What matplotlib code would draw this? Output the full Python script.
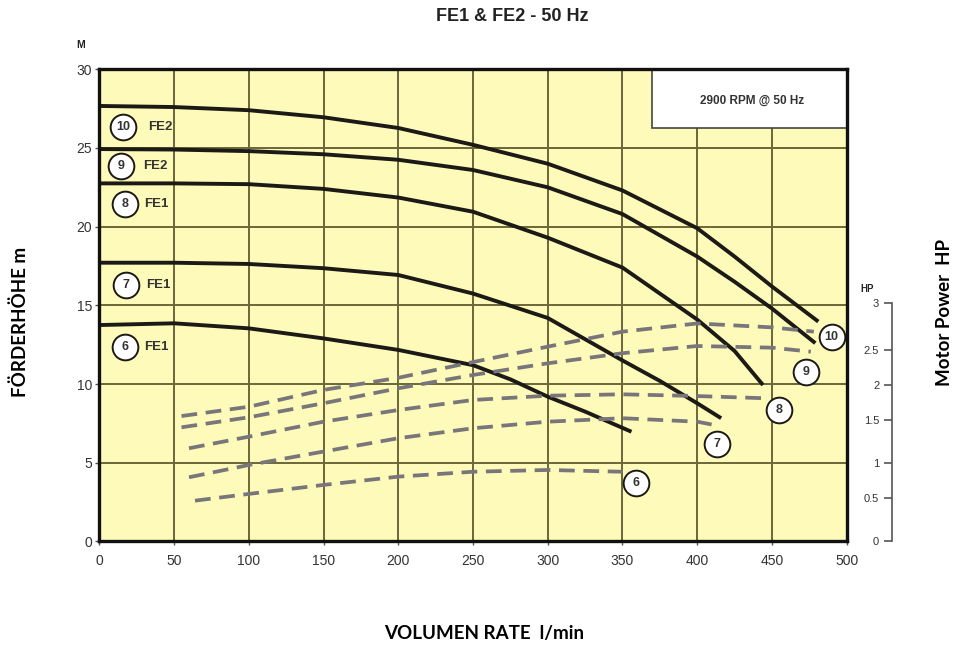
import numpy as np
import matplotlib
matplotlib.use("Agg")
import matplotlib.pyplot as plt

# head curves (l/min, m)
q10 = [0, 50, 100, 150, 200, 250, 300, 350, 400, 425, 450, 481]
h10 = [27.67, 27.6, 27.4, 26.95, 26.27, 25.2, 24.0, 22.3, 19.9, 18.1, 16.2, 13.97]
q9 = [0, 50, 100, 150, 200, 250, 300, 350, 400, 425, 450, 479]
h9 = [24.93, 24.9, 24.8, 24.6, 24.25, 23.6, 22.5, 20.8, 18.1, 16.5, 14.8, 12.6]
q8 = [0, 50, 100, 150, 200, 250, 300, 350, 400, 425, 444]
h8 = [22.75, 22.75, 22.7, 22.4, 21.85, 20.95, 19.3, 17.4, 14.1, 12.1, 9.94]
q7 = [0, 50, 100, 150, 200, 250, 300, 350, 375, 400, 416]
h7 = [17.71, 17.71, 17.63, 17.36, 16.93, 15.75, 14.2, 11.5, 10.2, 8.78, 7.83]
q6 = [0, 50, 100, 150, 200, 250, 275, 300, 325, 356]
h6 = [13.75, 13.86, 13.54, 12.9, 12.17, 11.2, 10.3, 9.2, 8.25, 6.97]

# motor power curves (l/min, HP)
pq10 = [55, 100, 150, 200, 250, 300, 350, 400, 450, 478]
p10 = [1.556, 1.689, 1.930, 2.103, 2.327, 2.535, 2.696, 2.784, 2.742, 2.696]
pq9 = [55, 100, 150, 200, 250, 300, 350, 400, 450, 476]
p9 = [1.415, 1.538, 1.739, 1.953, 2.143, 2.309, 2.453, 2.542, 2.524, 2.475]
pq8 = [60, 100, 150, 200, 250, 300, 350, 400, 445]
p8 = [1.173, 1.307, 1.480, 1.642, 1.786, 1.847, 1.867, 1.842, 1.811]
pq7 = [60, 100, 150, 200, 250, 300, 350, 400, 414]
p7 = [0.800, 0.975, 1.135, 1.289, 1.404, 1.480, 1.525, 1.480, 1.433]
pq6 = [64, 100, 150, 200, 250, 300, 350]
p6 = [0.473, 0.563, 0.691, 0.809, 0.879, 0.904, 0.879]

# HP scale of the original sheet is drawn unevenly against the metre scale
hp_ticks = [0, 0.5, 1, 1.5, 2, 2.5, 3]
hp_tick_labels = ["0", "0.5", "1", "1.5", "2", "2.5", "3"]
hp_tick_pos = [0, 2.74, 4.97, 7.72, 9.94, 12.17, 15.13]

x_ticks = list(range(0, 501, 50))
y_ticks = list(range(0, 31, 5))

left_tags = [("10", "FE2", 15.9, 26.33, 40.8), ("9", "FE2", 14.5, 23.86, 37.3),
             ("8", "FE1", 17.2, 21.44, 38.4), ("7", "FE1", 17.9, 16.3, 39.5),
             ("6", "FE1", 17.3, 12.38, 38.4)]
right_tags = [("10", 489.9, 13.0), ("9", 472.7, 10.79), ("8", 454.6, 8.35),
              ("7", 413.4, 6.19), ("6", 358.8, 3.70)]


def hp_to_axis(v):
    return np.interp(v, hp_ticks, hp_tick_pos)


fig = plt.figure(figsize=(9.67, 6.48), dpi=100)
ax = fig.add_axes([0.1027, 0.1644, 0.7729, 0.7287])
ax.set_facecolor("#fefab9")
ax.set_xlim(0, 500)
ax.set_ylim(0, 30)
ax.set_xticks(x_ticks)
ax.set_yticks(y_ticks)
ax.grid(True, color="#6b6638", lw=1.4, zorder=1)
ax.set_axisbelow(True)
for sp in ax.spines.values():
    sp.set_linewidth(2.4)
    sp.set_color("#111111")
    sp.set_zorder(6)
ax.tick_params(axis="both", labelsize=10, labelcolor="#333333", length=3,
               width=1, color="#555555", labelfontfamily="Liberation Sans")
ax.tick_params(axis="x", pad=6)
ax.tick_params(axis="y", pad=2)

for q, h in [(q10, h10), (q9, h9), (q8, h8), (q7, h7), (q6, h6)]:
    ax.plot(q, h, color="#1c1a16", lw=2.8, solid_capstyle="butt",
            solid_joinstyle="round", zorder=3)

for q, p in [(pq10, p10), (pq9, p9), (pq8, p8), (pq7, p7), (pq6, p6)]:
    ax.plot(q, hp_to_axis(p), color="#78767a", lw=2.7, dashes=(4.2, 2.3),
            dash_capstyle="butt", zorder=3)

for num, name, x, y, xt in left_tags:
    ax.plot(x, y, "o", ms=18.5, mfc="white", mec="#1c1a16", mew=1.4, zorder=4)
    ax.text(x, y, num, ha="center", va="center", fontsize=9, fontweight="bold",
            color="#333333", family="Liberation Sans", zorder=5)
    ax.text(xt, y, name, ha="center", va="center", fontsize=9.5, fontweight="bold",
            color="#333333", family="Liberation Sans", zorder=5)

for num, x, y in right_tags:
    ax.plot(x, y, "o", ms=18.5, mfc="white", mec="#1c1a16", mew=1.4, zorder=4,
            clip_on=False)
    ax.text(x, y, num, ha="center", va="center", fontsize=9, fontweight="bold",
            color="#333333", family="Liberation Sans", zorder=5)

# rpm box
ax.add_patch(plt.Rectangle((370, 26.3), 130, 3.7, facecolor="white",
                           edgecolor="#444444", lw=1.2, zorder=4))
ax.text(437, 28.0, "2900 RPM @ 50 Hz", ha="center", va="center", fontsize=8.5,
        fontweight="bold", color="#333333", family="Liberation Sans", zorder=5)

# right HP scale
ax3 = fig.add_axes([891.7 / 967, 0.1644, 0.001, 0.7287])
ax3.set_ylim(0, 30)
ax3.patch.set_visible(False)
for k in ["top", "right", "bottom"]:
    ax3.spines[k].set_visible(False)
ax3.spines["left"].set_bounds(0, hp_tick_pos[-1])
ax3.spines["left"].set_color("#555555")
ax3.spines["left"].set_linewidth(1.2)
ax3.set_xticks([])
ax3.set_yticks(hp_tick_pos, hp_tick_labels)
ax3.tick_params(axis="y", labelsize=8, labelcolor="#333333", length=6,
                width=1.2, color="#555555", pad=3, labelfontfamily="Liberation Sans")

fig.text(0.5295, 0.975, "FE1 & FE2 - 50 Hz", ha="center", va="center",
         fontsize=13, fontweight="bold", color="#222222", family="Liberation Sans")
fig.text(81 / 967, 1 - 45 / 648, "M", ha="center", va="center", fontsize=7.5,
         fontweight="bold", color="#222222", family="Liberation Sans")
fig.text(867 / 967, 1 - 289 / 648, "HP", ha="center", va="center", fontsize=7,
         fontweight="bold", color="#222222", family="Liberation Sans")
fig.text(20 / 967, 1 - 322 / 648, "FÖRDERHÖHE m", rotation=90, ha="center",
         va="center", fontsize=13.5, fontweight="bold", family="Lato")
fig.text(945 / 967, 1 - 313 / 648, "Motor Power  HP", rotation=90, ha="center",
         va="center", fontsize=13.5, fontweight="bold", family="Lato")
fig.text(484 / 967, 1 - 633 / 648, "VOLUMEN RATE  l/min", ha="center",
         va="center", fontsize=13.5, fontweight="bold", family="Lato")

fig.savefig("out.png", dpi=100)
